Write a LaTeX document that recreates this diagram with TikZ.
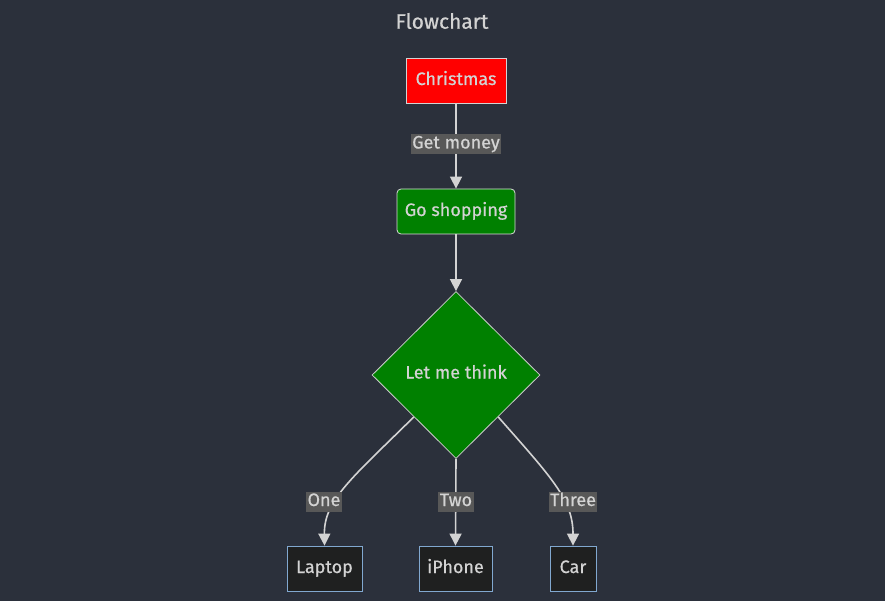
\documentclass[tikz,border=0pt]{standalone}
\usepackage{fontspec}
\setmainfont{Fira Sans}[FakeBold=0.6]
\usetikzlibrary{shapes.geometric,arrows.meta}
\definecolor{bg}{HTML}{2B303B}
\definecolor{txt}{HTML}{D3D3D3}
\definecolor{lblbg}{HTML}{585858}
\definecolor{leafbg}{HTML}{1F2020}
\definecolor{leafbd}{HTML}{81A8D0}
\definecolor{gr}{HTML}{008000}
\tikzset{
  every node/.style={font=\fontsize{18}{21}\selectfont, text=txt},
  box/.style={draw, line width=0.8pt, minimum height=45pt, inner xsep=0pt, inner ysep=0pt, text height=12.5pt, text depth=3.5pt},
  redbox/.style={box, fill=red, draw=txt, text=txt},
  greenbox/.style={box, fill=gr, draw=white!85!black, rounded corners=4pt},
  leaf/.style={box, fill=leafbg, draw=leafbd},
  decide/.style={diamond, aspect=1, minimum width=168pt, minimum height=167pt, inner sep=0pt, fill=gr, draw=white!80!black, line width=0.8pt},
  edge/.style={draw=txt, line width=1.6pt, -{Triangle[length=12pt,width=12pt]}},
  lbl/.style={fill=lblbg, inner xsep=1.5pt, inner ysep=2pt, text=txt, text height=12.5pt, text depth=3.5pt},
}
\begin{document}
\begin{tikzpicture}[x=1pt,y=-1pt]
\fill[bg] (0,0) rectangle (885,601);
\useasboundingbox (0,0) rectangle (885,601);
\node[font=\fontsize{21}{24}\selectfont] (title) at (442,21) {Flowchart};
\node[redbox, minimum width=100pt] (xmas) at (456,80.5) {Christmas};
\node[greenbox, minimum width=118pt] (shop) at (456,211.5) {Go shopping};
\node[decide] (think) at (456,375) {};
\node[text height=12.5pt, text depth=3.5pt] (thinktxt) at (456,374) {Let me think};
\node[leaf, minimum width=75pt] (laptop) at (324.5,568.5) {Laptop};
\node[leaf, minimum width=73pt] (iphone) at (455.5,568.5) {iPhone};
\node[leaf, minimum width=46pt] (car) at (573,568.5) {Car};
\draw[edge] (xmas) -- (shop);
\draw[edge] (shop) -- (think.north);
\draw[edge] (think.south west) .. controls (352,478) and (324,500) .. (laptop.north);
\draw[edge] (think.south) -- (iphone.north);
\draw[edge] (think.south east) .. controls (552,478) and (573,500) .. (car.north);
\node[lbl] (l1) at (456,144) {Get money};
\node[lbl] (l2) at (324,501.5) {One};
\node[lbl] (l3) at (456,501.5) {Two};
\node[lbl] (l4) at (573,501.5) {Three};
\end{tikzpicture}
\end{document}
